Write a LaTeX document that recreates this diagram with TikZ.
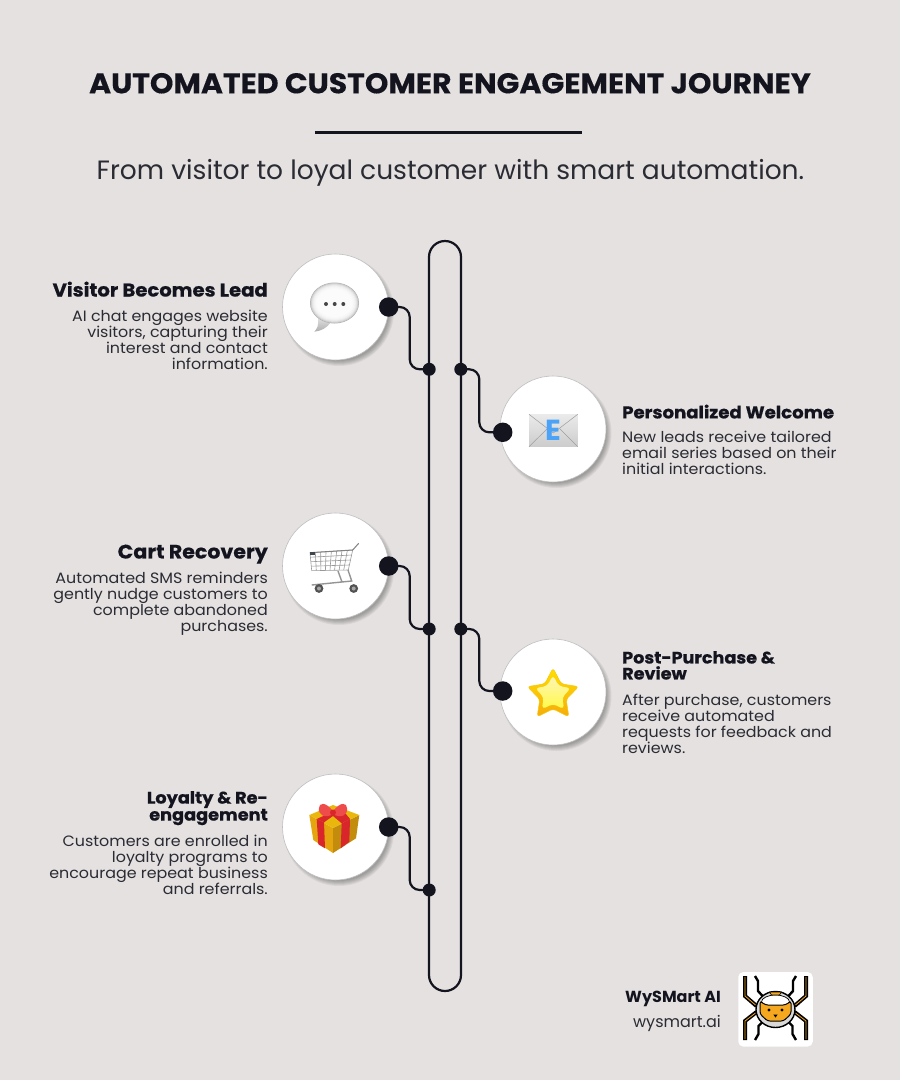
\documentclass[tikz,border=0pt]{standalone}
\usepackage{fontspec}
\setmainfont{Poppins}
\newfontfamily\wideface[FakeStretch=1.05,BoldFeatures={FakeBold=0.3}]{Poppins}
\newfontfamily\bodyface[FakeStretch=1.06]{Poppins}
\newfontfamily\headface[FakeStretch=1.06,BoldFeatures={FakeBold=0.6}]{Poppins}
\usepackage{tikz}
\usetikzlibrary{shapes.geometric}

\definecolor{paper}{HTML}{E4E1E0}
\definecolor{ink}{HTML}{14141F}
\definecolor{bodyink}{HTML}{2B2B33}
\definecolor{giftgold}{HTML}{E5A50F}
\definecolor{giftred}{HTML}{D9262B}
\definecolor{bowred}{HTML}{EE4B4B}
\definecolor{robotgold}{HTML}{F5A81F}
\definecolor{stargold}{HTML}{F5AC0C}
\definecolor{starpale}{HTML}{FFF4B8}
\definecolor{mailblue}{HTML}{4BA3F7}

\tikzset{
  stepring/.style = {shape=circle, fill=white, draw=black!25, line width=.6pt, minimum size=106pt, inner sep=0pt},
  bigdot/.style = {shape=circle, fill=ink, minimum size=19.5pt, inner sep=0pt},
  joindot/.style = {shape=circle, fill=ink, minimum size=13pt, inner sep=0pt},
  link/.style = {draw=ink, line width=2.2pt, rounded corners=10pt},
  lefthead/.style = {anchor=north east, align=right, inner sep=0pt, text=ink, font=\headface\bfseries\fontsize{#1}{16}\selectfont},
  righthead/.style = {lefthead=#1, anchor=north west, align=left},
  leftbody/.style = {anchor=north east, align=right, inner sep=0pt, text=bodyink, font=\bodyface\fontsize{15}{16}\selectfont},
  rightbody/.style = {leftbody, anchor=north west, align=left},
}

\begin{document}
\begin{tikzpicture}[x=1pt, y=-1pt]
  \useasboundingbox[fill=paper] (0,0) rectangle (900,1080);

  \node (title) [anchor=base, inner sep=0pt, text=ink, font=\wideface\bfseries\fontsize{28.5}{30}\selectfont] at (450,93.3) {AUTOMATED CUSTOMER ENGAGEMENT JOURNEY};
  \coordinate (ruleleft) at (315,132.5);
  \coordinate (ruleright) at (582,132.5);
  \draw[ink, line width=2.2pt] (ruleleft) -- (ruleright);
  \node (subtitle) [anchor=base, inner sep=0pt, text=bodyink, font=\fontsize{26.5}{30}\selectfont] at (450.5,179.3) {From visitor to loyal customer with smart automation.};

  % the long rail
  \node (rail) [draw=ink, line width=2.2pt, rounded corners=16pt, minimum width=32pt, minimum height=750pt, inner sep=0pt] at (445,616) {};

  % soft shadows under the rings
  \foreach \cx/\cy in {335.5/307, 553/429, 335.5/566, 553/692, 335.5/827}
    \foreach \r in {50,51,52,53,54,55}
      \fill[black, opacity=.055] (\cx+3.5,\cy+4) circle (\r);

  \node (leadring) [stepring] at (335.5,307) {};
  \node (mailring) [stepring] at (553,429) {};
  \node (cartring) [stepring] at (335.5,566) {};
  \node (starring) [stepring] at (553,692) {};
  \node (giftring) [stepring] at (335.5,827) {};

  % chat bubble
  \shade[top color=black!12, bottom color=black!32] (318,318) .. controls (319,325) and (317,329) .. (314.3,331.7) .. controls (321,331) and (327,328) .. (331,322) -- cycle;
  \fill[black!32] (334.5,303) ellipse (24.5 and 20.5);
  \foreach \g in {0,1,...,6}
    \fill[white, opacity=.38] (334.5,303) ellipse ({24-\g} and {20-\g});
  \foreach \dx in {326,334.7,343.3}
    \fill[black!72] (\dx,304) circle (2);

  % envelope
  \shade[top color=black!8, bottom color=black!20] (529,414.3) rectangle (577.7,446.7);
  \draw[black!38, line width=.5pt] (529,414.3) -- (553.3,433) -- (577.7,414.3) (529,446.7) -- (547,429) (577.7,446.7) -- (560,429);
  \node (mailletter) [inner sep=0pt, text=mailblue, font=\bfseries\fontsize{29}{30}\selectfont] at (553.3,430.7) {E};

  % cart
  \foreach \t in {0,.125,...,1}
    \draw[black!40, line width=.6pt] ({310+42.7*\t},{552.7-2.7*\t}) -- ({311.7+36.6*\t},{570.7-.7*\t});
  \foreach \t in {0,.25,.5,.75,1}
    \draw[black!40, line width=.6pt] ({310+1.7*\t},{552.7+18*\t}) -- ({352.7-4.4*\t},{550+20*\t});
  \draw[black!50, line width=1pt] (310,552.7) -- (352.7,550) -- (358.7,543.3);
  \fill[black!80!cyan] (310,552) rectangle (314.5,554.5);
  \draw[black!42, line width=1.4pt] (311.7,585) -- (351.7,581) -- (348,570) (338,571) -- (342,582);
  \foreach \wx in {319,353.7} {
    \fill[black!68] (\wx,588.5) circle (4.4);
    \fill[black!35] (\wx,588.5) circle (2);
  }

  % star
  \node (staricon) [shape=star, star points=5, star point ratio=1.95, minimum size=54pt, inner sep=0pt, rounded corners=3pt, draw=stargold!70!yellow, line width=.5pt, top color=yellow!75!orange, bottom color=stargold] at (553,695) {};
  \node (starglow) [shape=star, star points=5, star point ratio=1.95, minimum size=38pt, inner sep=0pt, rounded corners=4pt, top color=starpale, bottom color=yellow!60!starpale] at (553,694) {};

  % gift box
  \fill[giftgold] (309.3,815) -- (333,828) -- (333,853) -- (313.3,840) -- cycle;
  \fill[giftgold!85!black] (359.3,815) -- (333,828) -- (333,853) -- (356,838.3) -- cycle;
  \fill[giftgold!80!yellow] (309.3,815) -- (333,805) -- (359.3,815) -- (333,828) -- cycle;
  \fill[giftred] (316.7,819) -- (324,822.3) -- (325,848.3) -- (318.3,844.3) -- cycle;
  \fill[giftred] (341.7,823.3) -- (350,819) -- (349.3,841.7) -- (340.7,848.3) -- cycle;
  \fill[giftred] (316.7,819) -- (341,808) -- (350,819) -- (341.7,823.3) -- (333,816) -- (324,822.3) -- cycle;
  \fill[bowred] (333,811) .. controls (325,801) and (319,803) .. (319,808) .. controls (318,815) and (325,819) .. (333,814) .. controls (341,819) and (348,815) .. (347,808) .. controls (347,803) and (341,801) .. (333,811) -- cycle;
  \fill[giftred] (333,812.5) circle (3);

  % dots and links
  \node (leaddot) [bigdot] at (388.7,307) {};
  \node (mailjoin) [joindot] at (460.8,369.3) {};
  \node (leadjoin) [joindot] at (429.2,369.3) {};
  \node (maildot) [bigdot] at (502.7,432.3) {};
  \node (cartdot) [bigdot] at (388.7,566) {};
  \node (cartjoin) [joindot] at (429.2,629) {};
  \node (starjoin) [joindot] at (460.8,629) {};
  \node (stardot) [bigdot] at (502.7,691) {};
  \node (giftdot) [bigdot] at (388.7,827) {};
  \node (giftjoin) [joindot] at (429.2,890) {};

  \draw[link] (leaddot.center) -- ++(21,0) |- (leadjoin.center);
  \draw[link] (mailjoin.center) -- ++(18.5,0) |- (maildot.center);
  \draw[link] (cartdot.center) -- ++(21,0) |- (cartjoin.center);
  \draw[link] (starjoin.center) -- ++(18.5,0) |- (stardot.center);
  \draw[link] (giftdot.center) -- ++(21,0) |- (giftjoin.center);

  % step texts
  \node (leadhead) [lefthead=18.5] at (268,281.5) {Visitor Becomes Lead};
  \node (leadbody) [leftbody] at (268,309.5) {AI chat engages website\\visitors, capturing their\\interest and contact\\information.};
  \node (mailhead) [righthead=17.1] at (622,404.5) {Personalized Welcome};
  \node (mailbody) [rightbody] at (622,431) {New leads receive tailored\\email series based on their\\initial interactions.};
  \node (carthead) [lefthead=19.4] at (268,544.5) {Cart Recovery};
  \node (cartbody) [leftbody] at (268,571.5) {Automated SMS reminders\\gently nudge customers to\\complete abandoned\\purchases.};
  \node (starhead) [righthead=16.6] at (622,651) {Post-Purchase \&\\Review};
  \node (starbody) [rightbody] at (622,694) {After purchase, customers\\receive automated\\requests for feedback and\\reviews.};
  \node (gifthead) [lefthead=16.7] at (268,791) {Loyalty \& Re-\\engagement};
  \node (giftbody) [leftbody] at (268,834.5) {Customers are enrolled in\\loyalty programs to\\encourage repeat business\\and referrals.};

  % brand
  \node (brandname) [anchor=base east, inner sep=0pt, text=ink, font=\bfseries\fontsize{16}{18}\selectfont] at (721,1002) {WySMart AI};
  \node (brandurl) [anchor=base east, inner sep=0pt, text=bodyink, font=\fontsize{16}{18}\selectfont] at (721,1027) {wysmart.ai};

  \node (brandlogo) [fill=white, rounded corners=5pt, minimum size=74.5pt, inner sep=0pt] at (775.5,1009.3) {};
  \begin{scope}[shift={(775.5,0)}]
    \foreach \s in {1,-1} {
      \draw[black, line width=4pt] (\s*-30.5,976) -- (\s*-30.5,996) -- (\s*-19,1006);
      \draw[black, line width=4pt] (\s*-30.5,1040) -- (\s*-30.5,1021) -- (\s*-19,1012);
      \draw[robotgold, line width=.8pt] (\s*-30.5,977) -- (\s*-30.5,996) -- (\s*-20,1005);
      \draw[robotgold, line width=.8pt] (\s*-30.5,1039) -- (\s*-30.5,1021) -- (\s*-20,1013);
      \draw[black, line width=2.4pt] (\s*-20.5,976) -- (\s*-17.5,981) -- (\s*-17.5,991) -- (\s*-12,997);
      \draw[black, line width=2.4pt] (\s*-20.5,1040) -- (\s*-17,1034) -- (\s*-17,1026) -- (\s*-12,1021);
    }
    \filldraw[draw=black, fill=black!15, line width=1.4pt] (0,1009.5) ellipse (19.5 and 18);
    \filldraw[draw=black, fill=white, line width=.7pt] (0,1002) ellipse (14 and 7);
    \filldraw[draw=black, fill=robotgold, line width=.6pt] (-6,992) -- (6,992) -- (4,995) -- (-4,995) -- cycle;
    \filldraw[draw=black, fill=robotgold, line width=1pt, rounded corners=2.5pt] (-15.5,1001) -- (-10,1005) -- (10,1005) -- (15.5,1001) -- (15.5,1014) -- (8,1021) -- (-8,1021) -- (-15.5,1014) -- cycle;
    \fill[black] (-6.5,1010) circle (1.6) (6.5,1010) circle (1.6);
    \fill[black] (-2.2,1014.5) -- (2.2,1014.5) -- (0,1017.5) -- cycle;
  \end{scope}
\end{tikzpicture}
\end{document}
